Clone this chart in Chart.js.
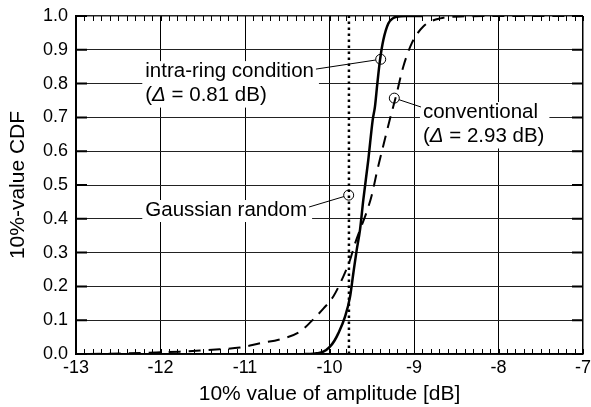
<!DOCTYPE html>
<html>
<head>
<meta charset="utf-8">
<script src="https://cdn.jsdelivr.net/npm/chart.js@4.4.0/dist/chart.umd.min.js"></script>
<style>
  html, body { margin: 0; padding: 0; background: #fff; }
  #wrap { width: 591px; height: 407px; }
</style>
</head>
<body>
<div id="wrap"><canvas id="cdfChart" width="591" height="407"></canvas></div>
<script>
// intra-ring condition (solid)
const intraX = [-10.3, -10.23, -10.15, -10.073, -9.994, -9.94, -9.896, -9.817, -9.757, -9.718, -9.678, -9.639, -9.60, -9.541, -9.489, -9.462, -9.434, -9.402, -9.363, -9.304, -9.25, -9.205, -9.09, -8.9];
const intraY = [0, 0, 0.002, 0.007, 0.022, 0.04, 0.061, 0.110, 0.169, 0.239, 0.308, 0.367, 0.456, 0.574, 0.692, 0.732, 0.80, 0.870, 0.929, 0.978, 0.993, 0.998, 1.0, 1.0];

// conventional (dashed)
const convX = [-12.85, -12.4, -12.0, -11.77, -11.53, -11.30, -11.06, -10.82, -10.59, -10.35, -10.21, -10.07, -9.955, -9.837, -9.757, -9.698, -9.62, -9.56, -9.50, -9.434, -9.36, -9.29, -9.205, -9.127, -9.027, -8.89, -8.69, -8.4, -8.0, -7.0];
const convY = [0, 0.002, 0.005, 0.007, 0.010, 0.014, 0.019, 0.032, 0.043, 0.066, 0.098, 0.135, 0.17, 0.229, 0.278, 0.327, 0.38, 0.42, 0.47, 0.544, 0.62, 0.69, 0.771, 0.85, 0.919, 0.969, 0.993, 0.999, 1.0, 1.0];

// Gaussian random (dotted vertical)
const gaussX = [-9.77, -9.77];
const gaussY = [0, 1];

// circle markers on the curves
const markerX = [-9.394, -9.233, -9.773];
const markerY = [0.872, 0.757, 0.47];

const xTicks = [-13, -12, -11, -10, -9, -8, -7];
const yTicks = [0, 0.1, 0.2, 0.3, 0.4, 0.5, 0.6, 0.7, 0.8, 0.9, 1.0];
const yTickLabels = ['0.0', '0.1', '0.2', '0.3', '0.4', '0.5', '0.6', '0.7', '0.8', '0.9', '1.0'];

// annotation texts, anchored in data units (left edge, centre of first line)
const labelTexts = [['intra-ring condition', '(Δ = 0.81 dB)'], ['conventional', '(Δ = 2.93 dB)'], ['Gaussian random']];
const labelX = [-12.18, -8.894, -12.18];
const labelY = [0.837, 0.716, 0.426];

const FONT = '"Liberation Sans", Arial, Helvetica, sans-serif';
const labelFont = '20.5px ' + FONT;

function toPoints(xs, ys) {
    return xs.map((x, i) => ({ x: x, y: ys[i] }));
}

function drawRich(ctx, str, x, y) {
    const parts = str.split('Δ');
    let cx = x;
    parts.forEach((p, i) => {
        if (i > 0) {
            ctx.font = 'italic ' + labelFont;
            ctx.fillText('Δ', cx, y);
            cx += ctx.measureText('Δ').width;
        }
        ctx.font = labelFont;
        ctx.fillText(p, cx, y);
        cx += ctx.measureText(p).width;
    });
    return cx - x;
}

function textWidth(ctx, str) {
    const parts = str.split('Δ');
    let w = 0;
    parts.forEach((p, i) => {
        if (i > 0) { ctx.font = 'italic ' + labelFont; w += ctx.measureText('Δ').width; }
        ctx.font = labelFont;
        w += ctx.measureText(p).width;
    });
    return w;
}

// line from (x1,y1) to the edge of the marker circle at (mx,my)
function leader(ctx, x1, y1, mx, my, r) {
    const dx = mx - x1, dy = my - y1;
    const len = Math.sqrt(dx * dx + dy * dy);
    ctx.beginPath();
    ctx.moveTo(x1, y1);
    ctx.lineTo(mx - dx / len * r, my - dy / len * r);
    ctx.stroke();
}

const framePlugin = {
    id: 'framePlugin',
    afterDatasetsDraw(chart) {
        const { ctx, chartArea: a, scales: { x, y } } = chart;
        ctx.save();

        // minor ticks along top and bottom, major ticks on left/right
        ctx.strokeStyle = '#000';
        ctx.lineWidth = 1;
        for (let i = 0; i <= 60; i++) {
            const px = Math.round(x.getPixelForValue(-13 + i / 10)) + 0.5;
            ctx.beginPath();
            ctx.moveTo(px, a.bottom); ctx.lineTo(px, a.bottom - 5);
            ctx.moveTo(px, a.top); ctx.lineTo(px, a.top + 5);
            ctx.stroke();
        }
        ctx.lineWidth = 2;
        yTicks.forEach(v => {
            const py = y.getPixelForValue(v);
            ctx.beginPath();
            ctx.moveTo(a.left, py); ctx.lineTo(a.left + 11, py);
            ctx.moveTo(a.right, py); ctx.lineTo(a.right - 11, py);
            ctx.stroke();
        });

        // annotation labels with white boxes
        ctx.textBaseline = 'middle';
        ctx.textAlign = 'left';
        const lineGap = 24.5;
        const boxes = labelTexts.map((lines, k) => {
            const lx = x.getPixelForValue(labelX[k]);
            const ly = y.getPixelForValue(labelY[k]);
            const w = Math.max(...lines.map(s => textWidth(ctx, s)));
            return { lx, ly, w, h: (lines.length - 1) * lineGap };
        });
        boxes.forEach((b, k) => {
            ctx.fillStyle = '#fff';
            ctx.fillRect(b.lx - 3, b.ly - 10, b.w + 8, b.h + 22);
        });
        ctx.fillStyle = '#000';
        boxes.forEach((b, k) => {
            labelTexts[k].forEach((s, j) => drawRich(ctx, s, b.lx, b.ly + j * lineGap));
        });

        // leader lines
        ctx.lineWidth = 1;
        ctx.strokeStyle = '#000';
        const mpx = markerX.map(v => x.getPixelForValue(v));
        const mpy = markerY.map(v => y.getPixelForValue(v));
        const w0 = textWidth(ctx, labelTexts[0][0]);
        leader(ctx, boxes[0].lx + w0 + 2, boxes[0].ly - 2, mpx[0], mpy[0], 5);
        leader(ctx, boxes[1].lx - 2, boxes[1].ly - 5, mpx[1], mpy[1], 5);
        const w2 = textWidth(ctx, labelTexts[2][0]);
        leader(ctx, boxes[2].lx + w2 + 2, boxes[2].ly - 3, mpx[2], mpy[2], 5);

        ctx.restore();
    }
};

const ctx = document.getElementById('cdfChart').getContext('2d');
new Chart(ctx, {
    type: 'line',
    data: {
        datasets: [
            {
                label: 'intra-ring condition',
                data: toPoints(intraX, intraY),
                borderColor: '#000',
                borderWidth: 2.5,
                pointRadius: 0,
                cubicInterpolationMode: 'monotone',
                fill: false
            },
            {
                label: 'conventional',
                data: toPoints(convX, convY),
                borderColor: '#000',
                borderWidth: 2,
                borderDash: [12, 8],
                pointRadius: 0,
                cubicInterpolationMode: 'monotone',
                fill: false
            },
            {
                label: 'Gaussian random',
                data: toPoints(gaussX, gaussY),
                borderColor: '#000',
                borderWidth: 2.5,
                borderDash: [2.5, 3.5],
                pointRadius: 0,
                fill: false
            },
            {
                label: 'markers',
                data: toPoints(markerX, markerY),
                showLine: false,
                pointRadius: 5,
                pointBorderWidth: 1,
                pointBorderColor: '#000',
                pointBackgroundColor: 'rgba(0,0,0,0)',
                pointStyle: 'circle'
            }
        ]
    },
    options: {
        responsive: false,
        animation: false,
        events: [],
        layout: { padding: { left: 0, right: 8, top: 16, bottom: 0 } },
        plugins: {
            legend: { display: false },
            tooltip: { enabled: false }
        },
        scales: {
            x: {
                type: 'linear',
                min: -13,
                max: -7,
                afterBuildTicks: scale => { scale.ticks = xTicks.map(v => ({ value: v })); },
                afterFit: scale => {
                    scale.height = 53;
                    scale.paddingLeft = 0; scale.paddingRight = 0;
                },
                ticks: {
                    color: '#000',
                    font: { family: FONT, size: 18 },
                    padding: 3,
                    maxRotation: 0,
                    autoSkip: false,
                    callback: v => String(v)
                },
                grid: {
                    color: '#000',
                    lineWidth: c => (c.tick && c.tick.value === -7 ? 1.5 : 1),
                    drawTicks: false
                },
                border: { color: '#000', width: 1.5 },
                title: {
                    display: true,
                    text: '10% value of amplitude [dB]',
                    color: '#000',
                    font: { family: FONT, size: 21 },
                    padding: { top: 0, bottom: 0 }
                }
            },
            y: {
                type: 'linear',
                min: 0,
                max: 1,
                afterBuildTicks: scale => { scale.ticks = yTicks.map(v => ({ value: v })); },
                afterFit: scale => {
                    scale.width = 76;
                    scale.paddingTop = 0; scale.paddingBottom = 0;
                },
                ticks: {
                    color: '#000',
                    font: { family: FONT, size: 18 },
                    padding: 8,
                    autoSkip: false,
                    callback: (v, i) => yTickLabels[i]
                },
                grid: {
                    color: '#222',
                    lineWidth: c => (c.tick && c.tick.value === 1 ? 1.5 : 1),
                    drawTicks: false
                },
                border: { color: '#000', width: 1.5 },
                title: {
                    display: true,
                    text: '10%-value CDF',
                    color: '#000',
                    font: { family: FONT, size: 21 },
                    padding: { top: 6, bottom: 0 }
                }
            }
        }
    },
    plugins: [framePlugin]
});
</script>
</body>
</html>
